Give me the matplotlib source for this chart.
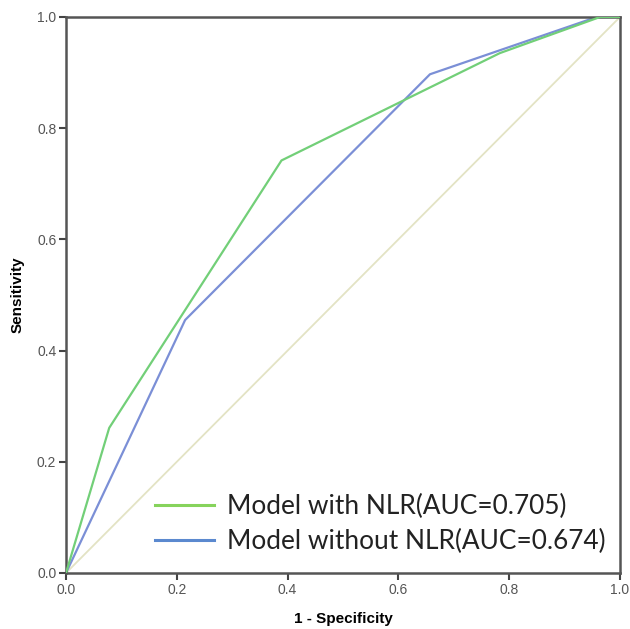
import numpy as np
import matplotlib
matplotlib.use("Agg")
import matplotlib.pyplot as plt

# ROC curve points
fpr_with = [0.0, 0.078, 0.389, 0.783, 0.964, 1.0]
tpr_with = [0.0, 0.261, 0.742, 0.935, 1.0, 1.0]

fpr_without = [0.0, 0.215, 0.657, 0.958, 1.0]
tpr_without = [0.0, 0.455, 0.897, 1.0, 1.0]

ref_line = [0.0, 1.0]
ticks = [0.0, 0.2, 0.4, 0.6, 0.8, 1.0]
labels = ["Model with NLR(AUC=0.705)", "Model without NLR(AUC=0.674)"]

plt.rcParams["font.family"] = ["Liberation Sans", "DejaVu Sans"]

fig = plt.figure(figsize=(6.30, 6.29), dpi=100)
ax = fig.add_axes([66 / 630, 56 / 629, 554 / 630, 556 / 629])

ax.plot(ref_line, ref_line, color="#e3e3c4", lw=1.3, zorder=1)
ax.plot(fpr_with, tpr_with, color="#72cf78", lw=1.6, zorder=3)
ax.plot(fpr_without, tpr_without, color="#7b8fd6", lw=1.6, zorder=2)

ax.set_xlim(0, 1)
ax.set_ylim(0, 1)
ax.set_xticks(ticks)
ax.set_yticks(ticks)
ax.set_xticklabels([f"{t:.1f}" for t in ticks])
ax.set_yticklabels([f"{t:.1f}" for t in ticks])
ax.tick_params(direction="out", length=5, width=1.5, color="#444444",
               labelsize=10, labelcolor="#555555", pad=2)
for s in ax.spines.values():
    s.set_color("#555555")
    s.set_linewidth(1.8)

ax.set_xlabel("1 - Specificity", fontsize=11, fontweight="bold", labelpad=11)
ax.set_ylabel("Sensitivity", fontsize=11, fontweight="bold", labelpad=9)

# legend drawn with separate handle colours like the original
h1 = plt.Line2D([], [], color="#86d35c", lw=2.2)
h2 = plt.Line2D([], [], color="#5b89cf", lw=2.2)
leg = ax.legend([h1, h2], labels, loc="center left",
                bbox_to_anchor=((155 - 66) / 554, (573 - 524) / 556),
                frameon=False, handlelength=2.25, handletextpad=0.5,
                labelspacing=0.38, borderpad=0, borderaxespad=0,
                prop={"family": ["Lato", "DejaVu Sans"], "size": 18.9})
for t in leg.get_texts():
    t.set_color("#222222")

fig.savefig("out.png", dpi=100, facecolor="white")
